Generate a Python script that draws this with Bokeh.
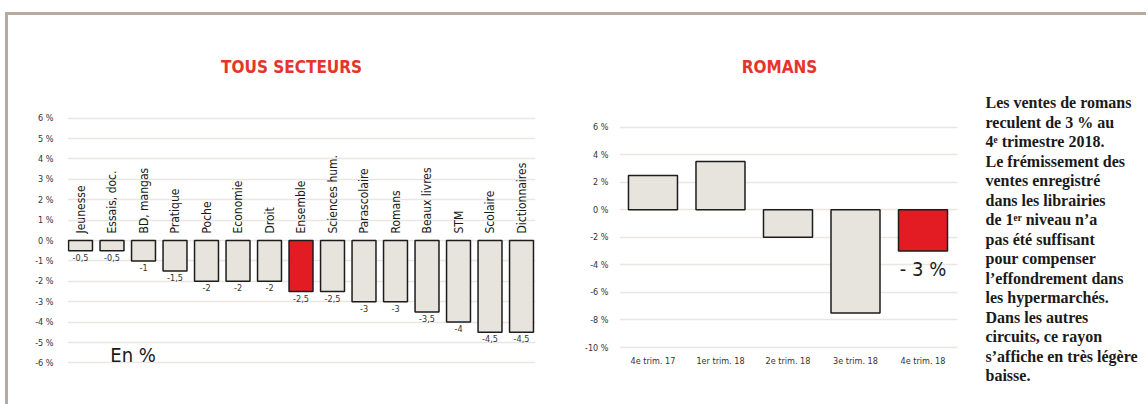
import math
from bokeh.plotting import figure
from bokeh.models import Range1d, FixedTicker
from bokeh.layouts import row
from bokeh.embed import file_html
from bokeh.resources import INLINE
from bokeh.core.properties import value

# ---------------- data ----------------
secteurs = ["Jeunesse", "Essais, doc.", "BD, mangas", "Pratique", "Poche", "Economie",
            "Droit", "Ensemble", "Sciences hum.", "Parascolaire", "Romans",
            "Beaux livres", "STM", "Scolaire", "Dictionnaires"]
secteurs_var = [-0.5, -0.5, -1, -1.5, -2, -2, -2, -2.5, -2.5, -3, -3, -3.5, -4, -4.5, -4.5]
secteurs_ticks = [-6, -5, -4, -3, -2, -1, 0, 1, 2, 3, 4, 5, 6]
secteur_mis_en_avant = "Ensemble"

trimestres = ["4e trim. 17", "1er trim. 18", "2e trim. 18", "3e trim. 18", "4e trim. 18"]
romans_var = [2.5, 3.5, -2, -7.5, -3]
romans_ticks = [-10, -8, -6, -4, -2, 0, 2, 4, 6]
trimestre_mis_en_avant = "4e trim. 18"

titre_gauche = "TOUS SECTEURS"
titre_droite = "ROMANS"
unite = "En %"

commentaire = [
    "Les ventes de romans",
    "reculent de 3 % au",
    "4\u1d49 trimestre 2018.",
    "Le frémissement des",
    "ventes enregistré",
    "dans les librairies",
    "de 1\u1d49\u02b3 niveau n\u2019a",
    "pas été suffisant",
    "pour compenser",
    "l\u2019effondrement dans",
    "les hypermarchés.",
    "Dans les autres",
    "circuits, ce rayon",
    "s\u2019affiche en très légère",
    "baisse.",
]

# ---------------- styles ----------------
NARROW = "DejaVu Sans Condensed, Liberation Sans Narrow, Roboto"
SERIF = "Liberation Serif"
BAR = "#e7e3dd"
RED = "#e31c23"
TITLE_RED = "#e5352b"
EDGE = "#1c1c1c"
GRID = "#ebe6e1"
TXT = "#333333"
FRAME = "#b6ab9e"
BOTTOM = 22  # all frames in the row share the same bottom edge


def fmt(v):
    return f"{v:g}".replace(".", ",")


def style_axes(p, ticks):
    p.xgrid.visible = False
    p.yaxis.ticker = FixedTicker(ticks=ticks)
    p.ygrid.ticker = FixedTicker(ticks=ticks)
    p.yaxis.major_label_overrides = {t: f"{t} %" for t in ticks}
    p.yaxis.axis_line_color = None
    p.yaxis.major_tick_line_color = None
    p.yaxis.minor_tick_line_color = None
    p.yaxis.major_label_text_font = NARROW
    p.yaxis.major_label_text_font_size = "9px"
    p.yaxis.major_label_text_color = TXT
    p.ygrid.grid_line_color = GRID
    p.ygrid.grid_line_width = 1.5


# ---------------- left chart ----------------
pa = figure(width=560, height=389, x_range=Range1d(-0.413, 14.444), y_range=Range1d(-6.96, 11.03),
            output_backend="svg", toolbar_location=None, x_axis_location=None,
            min_border_left=59, min_border_right=33, min_border_top=0, min_border_bottom=BOTTOM,
            outline_line_color=None)
style_axes(pa, secteurs_ticks)
pa.yaxis.major_label_standoff = 8

xa = list(range(len(secteurs)))
cols_a = [RED if s == secteur_mis_en_avant else BAR for s in secteurs]
pa.vbar(x=xa, top=secteurs_var, bottom=0, width=0.76, fill_color=cols_a,
        line_color=EDGE, line_width=1.5)
pa.text(x=xa, y=[0] * len(xa), text=secteurs, angle=math.pi / 2, text_align="left",
        text_baseline="middle", y_offset=-7, text_font=value(NARROW),
        text_font_size="12px", text_color="#1a1a1a")
pa.text(x=xa, y=secteurs_var, text=[fmt(v) for v in secteurs_var], text_align="center",
        text_baseline="top", y_offset=3, text_font=value(NARROW),
        text_font_size="9px", text_color=TXT)
pa.text(x=[6.70], y=[8.5], text=[titre_gauche], text_align="center", text_baseline="middle",
        text_font=value(NARROW), text_font_style="bold", text_font_size="17px",
        text_color=TITLE_RED)
pa.text(x=[1.67], y=[-5.59], text=[unite], text_align="center", text_baseline="middle",
        text_font=value(NARROW), text_font_size="20px", text_color="#1a1a1a")

# ---------------- right chart ----------------
pb = figure(width=402, height=389, x_range=Range1d(-0.496, 4.511), y_range=Range1d(-12.54, 14.11),
            output_backend="svg", toolbar_location=None, x_axis_location=None,
            min_border_left=51, min_border_right=13, min_border_top=0, min_border_bottom=BOTTOM,
            outline_line_color=None)
style_axes(pb, romans_ticks)
pb.yaxis.major_label_standoff = 5
xb = list(range(len(trimestres)))

cols_b = [RED if t == trimestre_mis_en_avant else BAR for t in trimestres]
pb.vbar(x=xb, top=romans_var, bottom=0, width=0.726, fill_color=cols_b,
        line_color=EDGE, line_width=1.5)
pb.text(x=xb, y=[min(romans_ticks)] * len(xb), text=trimestres, text_align="center",
        text_baseline="middle", y_offset=13, text_font=value(NARROW),
        text_font_size="9px", text_color=TXT)
hi = trimestres.index(trimestre_mis_en_avant)
pb.text(x=[xb[hi]], y=[romans_var[hi]], text=["- " + fmt(abs(romans_var[hi])) + " %"],
        text_align="center", text_baseline="top", y_offset=6, text_font=value(NARROW),
        text_font_size="20px", text_color="#1a1a1a")
pb.text(x=[1.874], y=[10.37], text=[titre_droite], text_align="center", text_baseline="middle",
        text_font=value(NARROW), text_font_style="bold", text_font_size="17px",
        text_color=TITLE_RED)

# ---------------- text panel ----------------
pc = figure(width=176, height=389, x_range=Range1d(970, 1146), y_range=Range1d(382, 15),
            output_backend="svg", toolbar_location=None, x_axis_location=None,
            y_axis_location=None, min_border_left=0, min_border_right=0, min_border_top=0,
            min_border_bottom=BOTTOM, outline_line_color=None)
pc.grid.visible = False
pc.text(x=[985] * len(commentaire), y=[102 + 19.5 * i for i in range(len(commentaire))],
        text=commentaire, text_align="left", text_baseline="alphabetic",
        text_font=value(SERIF), text_font_style="bold", text_font_size="16px",
        text_color="#1a1a1a")

layout = row(pa, pb, pc, margin=(12, 0, 0, 5),
             styles={"border-top": f"3px solid {FRAME}", "border-left": f"3px solid {FRAME}"})

open("out.html", "w").write(file_html(layout, INLINE))
